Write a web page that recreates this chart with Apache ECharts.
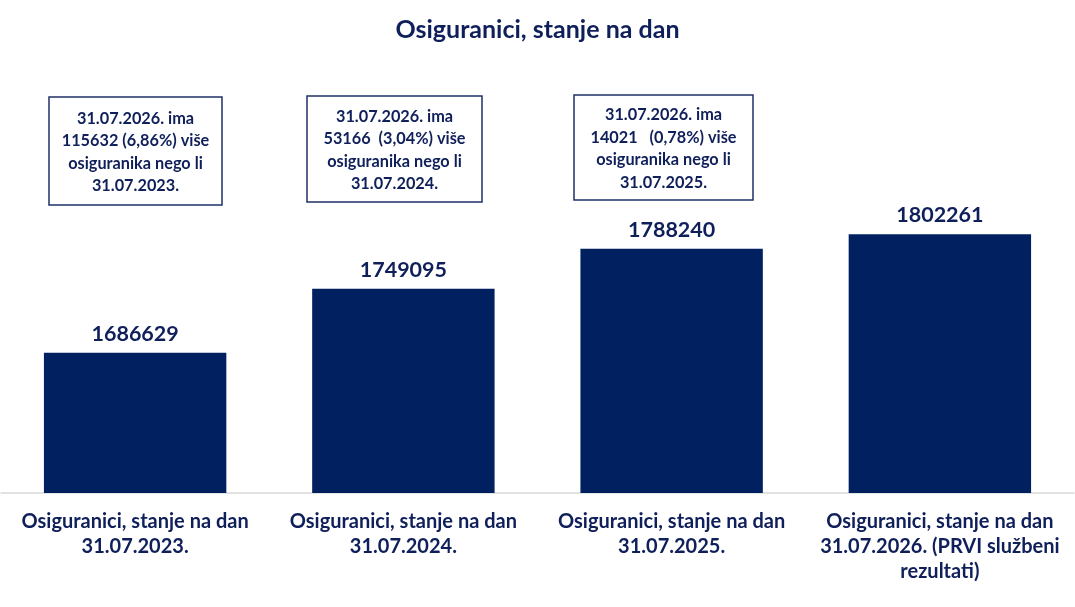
<!DOCTYPE html>
<html>
<head>
<meta charset="utf-8">
<script src="https://cdn.jsdelivr.net/npm/echarts@6/dist/echarts.min.js"></script>
<style>html,body{margin:0;padding:0;background:#fff;}#c{width:1075px;height:607px;}</style>
</head>
<body>
<div id="c"></div>
<script>
const categories = [
  'Osiguranici, stanje na dan\n31.07.2023.',
  'Osiguranici, stanje na dan\n31.07.2024.',
  'Osiguranici, stanje na dan\n31.07.2025.',
  'Osiguranici, stanje na dan\n31.07.2026. (PRVI službeni\nrezultati)'
];
const values = [1686629, 1749095, 1788240, 1802261];
const notes = [
  '31.07.2026. ima\n115632 (6,86%) više\nosiguranika nego li\n31.07.2023.',
  '31.07.2026. ima\n53166  (3,04%) više\nosiguranika nego li\n31.07.2024.',
  '31.07.2026. ima\n14021   (0,78%) više\nosiguranika nego li\n31.07.2025.'
];
const titleText = 'Osiguranici, stanje na dan';

const navy = '#002060';
const textNavy = '#0f1f5a';
const font = 'Lato, "Open Sans", sans-serif';

const boxes = [
  {x: 49, y: 97, w: 173, h: 108},
  {x: 307, y: 96, w: 175, h: 106},
  {x: 574, y: 95, w: 179, h: 105}
];
const graphic = [];
notes.forEach((t, i) => {
  const b = boxes[i];
  graphic.push({type: 'rect', shape: {x: b.x, y: b.y, width: b.w, height: b.h},
    style: {fill: '#fff', stroke: '#1f3068', lineWidth: 1.5}, z: 10});
  graphic.push({type: 'text', x: b.x + b.w / 2, y: b.y + b.h / 2 + 1, z: 11,
    style: {text: t, fill: textNavy, font: 'bold 16.3px ' + font, align: 'center',
      verticalAlign: 'middle', lineHeight: 22.5}});
});

const chart = echarts.init(document.getElementById('c'));
chart.setOption({
  backgroundColor: '#fff',
  animation: false,
  title: {text: titleText, left: 'center', top: 12,
    textStyle: {color: textNavy, fontSize: 25, fontWeight: 'bold', fontFamily: font}},
  grid: {left: 1, right: 1, top: 134, bottom: 114, containLabel: false},
  xAxis: {
    type: 'category', data: categories,
    axisLine: {show: true, lineStyle: {color: '#d9d9d9', width: 1.5}},
    axisTick: {show: false},
    axisLabel: {color: textNavy, fontSize: 20, fontWeight: 'bold', fontFamily: font,
      lineHeight: 25, margin: 16, interval: 0}
  },
  yAxis: {type: 'value', min: 1550000, max: 1900000, show: false, splitLine: {show: false}},
  series: [{
    type: 'bar', data: values, barWidth: '68%',
    itemStyle: {color: navy},
    label: {show: true, position: 'top', distance: 8, color: textNavy, fontSize: 21.5,
      fontWeight: 'bold', fontFamily: font}
  }],
  graphic: graphic
});
</script>
</body>
</html>
